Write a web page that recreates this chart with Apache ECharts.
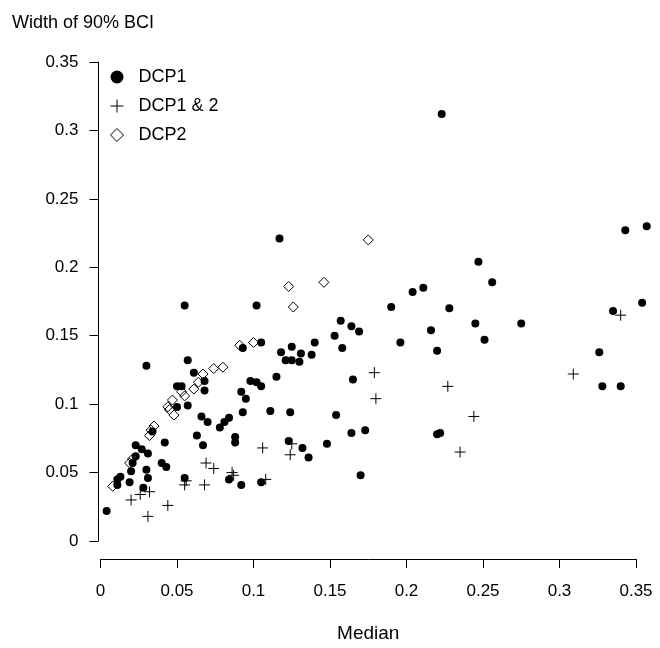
<!DOCTYPE html>
<html>
<head>
<meta charset="utf-8">
<script src="https://cdn.jsdelivr.net/npm/echarts@6/dist/echarts.min.js"></script>
<style>html,body{margin:0;padding:0;background:#fff}#c{width:660px;height:648px}</style>
</head>
<body>
<div id="c"></div>
<script>
// Data: [median, width of 90% BCI]
var dcp1 = [
[0.223,0.312],[0.343,0.227],[0.357,0.230],[0.117,0.221],[0.247,0.204],[0.256,0.189],[0.204,0.182],[0.211,0.185],
[0.228,0.170],[0.216,0.154],[0.245,0.159],[0.275,0.159],[0.251,0.147],[0.220,0.139],[0.220,0.078],[0.222,0.079],
[0.335,0.168],[0.354,0.174],[0.326,0.138],[0.328,0.113],[0.340,0.113],[0.102,0.172],[0.190,0.171],[0.157,0.161],
[0.164,0.157],[0.169,0.153],[0.153,0.150],[0.055,0.172],[0.093,0.141],[0.105,0.145],[0.196,0.145],[0.125,0.142],
[0.140,0.145],[0.118,0.138],[0.131,0.137],[0.138,0.136],[0.121,0.132],[0.125,0.132],[0.130,0.131],[0.158,0.141],
[0.115,0.120],[0.098,0.117],[0.102,0.116],[0.105,0.113],[0.092,0.109],[0.095,0.104],[0.165,0.118],[0.093,0.094],
[0.111,0.095],[0.124,0.094],[0.154,0.092],[0.164,0.079],[0.173,0.081],[0.148,0.071],[0.123,0.073],[0.132,0.068],
[0.136,0.061],[0.170,0.048],[0.105,0.043],[0.092,0.041],[0.068,0.117],[0.068,0.110],[0.078,0.083],[0.081,0.087],
[0.084,0.090],[0.088,0.076],[0.088,0.072],[0.066,0.091],[0.070,0.087],[0.063,0.077],[0.067,0.070],[0.030,0.128],
[0.057,0.132],[0.061,0.123],[0.050,0.113],[0.053,0.113],[0.057,0.099],[0.050,0.098],[0.042,0.072],[0.023,0.070],
[0.034,0.080],[0.027,0.067],[0.031,0.064],[0.023,0.062],[0.021,0.057],[0.040,0.057],[0.043,0.054],[0.020,0.051],
[0.030,0.052],[0.031,0.046],[0.013,0.047],[0.011,0.045],[0.011,0.041],[0.019,0.043],[0.028,0.039],[0.004,0.022],
[0.055,0.046],[0.084,0.045]
];
var dcp12 = [
[0.340,0.165],[0.309,0.122],[0.227,0.113],[0.244,0.091],[0.235,0.065],[0.179,0.123],[0.180,0.104],[0.125,0.071],
[0.124,0.063],[0.106,0.068],[0.108,0.045],[0.086,0.050],[0.087,0.048],[0.069,0.057],[0.074,0.053],[0.056,0.044],
[0.055,0.041],[0.068,0.041],[0.032,0.036],[0.026,0.034],[0.020,0.030],[0.031,0.018],[0.044,0.026]
];
var dcp2 = [
[0.175,0.220],[0.123,0.186],[0.146,0.189],[0.126,0.171],[0.100,0.145],[0.091,0.143],[0.067,0.122],[0.074,0.126],
[0.080,0.127],[0.064,0.116],[0.061,0.111],[0.053,0.109],[0.055,0.106],[0.047,0.103],[0.044,0.098],[0.045,0.096],
[0.048,0.092],[0.035,0.084],[0.033,0.081],[0.032,0.077],[0.019,0.057],[0.021,0.060],[0.008,0.040]
];
var xTicks = {min: 0, max: 0.35, step: 0.05};
var yTicks = {min: 0, max: 0.35, step: 0.05};
var seriesNames = ['DCP1', 'DCP1 & 2', 'DCP2'];

var FONT = 'Liberation Sans, Arial, sans-serif';
var PLUS = 'path://M0,5L10,5M5,0L5,10';
var fmt = function (v) { return String(+v.toFixed(2)); };

var chart = echarts.init(document.getElementById('c'), null, {renderer: 'canvas'});
chart.setOption({
  animation: false,
  backgroundColor: '#fff',
  textStyle: {fontFamily: FONT, color: '#000'},
  title: {
    text: 'Width of 90% BCI', left: 7, top: 9,
    textStyle: {fontFamily: FONT, fontSize: 18, fontWeight: 'normal', color: '#000'}
  },
  legend: {
    orient: 'vertical', left: 105, top: 63, itemGap: 11,
    itemWidth: 13, itemHeight: 13,
    textStyle: {fontFamily: FONT, fontSize: 18, color: '#000', padding: [0, 0, 0, 10]},
    data: [
      {name: seriesNames[0], icon: 'circle', itemStyle: {color: '#000', borderWidth: 0}},
      {name: seriesNames[1], icon: PLUS, itemStyle: {color: 'transparent', borderColor: '#000', borderWidth: 1}},
      {name: seriesNames[2], icon: 'diamond', itemStyle: {color: 'transparent', borderColor: '#000', borderWidth: 1}}
    ]
  },
  grid: {left: 100.5, right: 24, top: 62, bottom: 104},
  xAxis: {
    type: 'value', min: xTicks.min, max: xTicks.max, interval: xTicks.step,
    offset: 18,
    name: 'Median', nameLocation: 'middle', nameGap: 65,
    nameTextStyle: {fontFamily: FONT, fontSize: 19, color: '#000'},
    axisLine: {show: true, onZero: false, lineStyle: {color: '#000', width: 1}},
    axisTick: {show: true, length: 9, lineStyle: {color: '#000', width: 1}},
    axisLabel: {fontFamily: FONT, fontSize: 17, color: '#000', margin: 24, formatter: fmt},
    splitLine: {show: false}
  },
  yAxis: {
    type: 'value', min: yTicks.min, max: yTicks.max, interval: yTicks.step,
    offset: 2,
    axisLine: {show: true, onZero: false, lineStyle: {color: '#000', width: 1}},
    axisTick: {show: true, length: 9, lineStyle: {color: '#000', width: 1}},
    axisLabel: {fontFamily: FONT, fontSize: 17, color: '#000', margin: 20, formatter: fmt},
    splitLine: {show: false}
  },
  series: [
    {name: seriesNames[0], type: 'scatter', data: dcp1, symbol: 'circle', symbolSize: 8, clip: false,
     itemStyle: {color: '#000', opacity: 1}},
    {name: seriesNames[1], type: 'scatter', data: dcp12, symbol: PLUS, symbolSize: 11, clip: false,
     itemStyle: {color: 'transparent', borderColor: '#000', borderWidth: 1, opacity: 1}},
    {name: seriesNames[2], type: 'scatter', data: dcp2, symbol: 'diamond', symbolSize: 10, clip: false,
     itemStyle: {color: 'transparent', borderColor: '#000', borderWidth: 1, opacity: 1}}
  ]
});
</script>
</body>
</html>
